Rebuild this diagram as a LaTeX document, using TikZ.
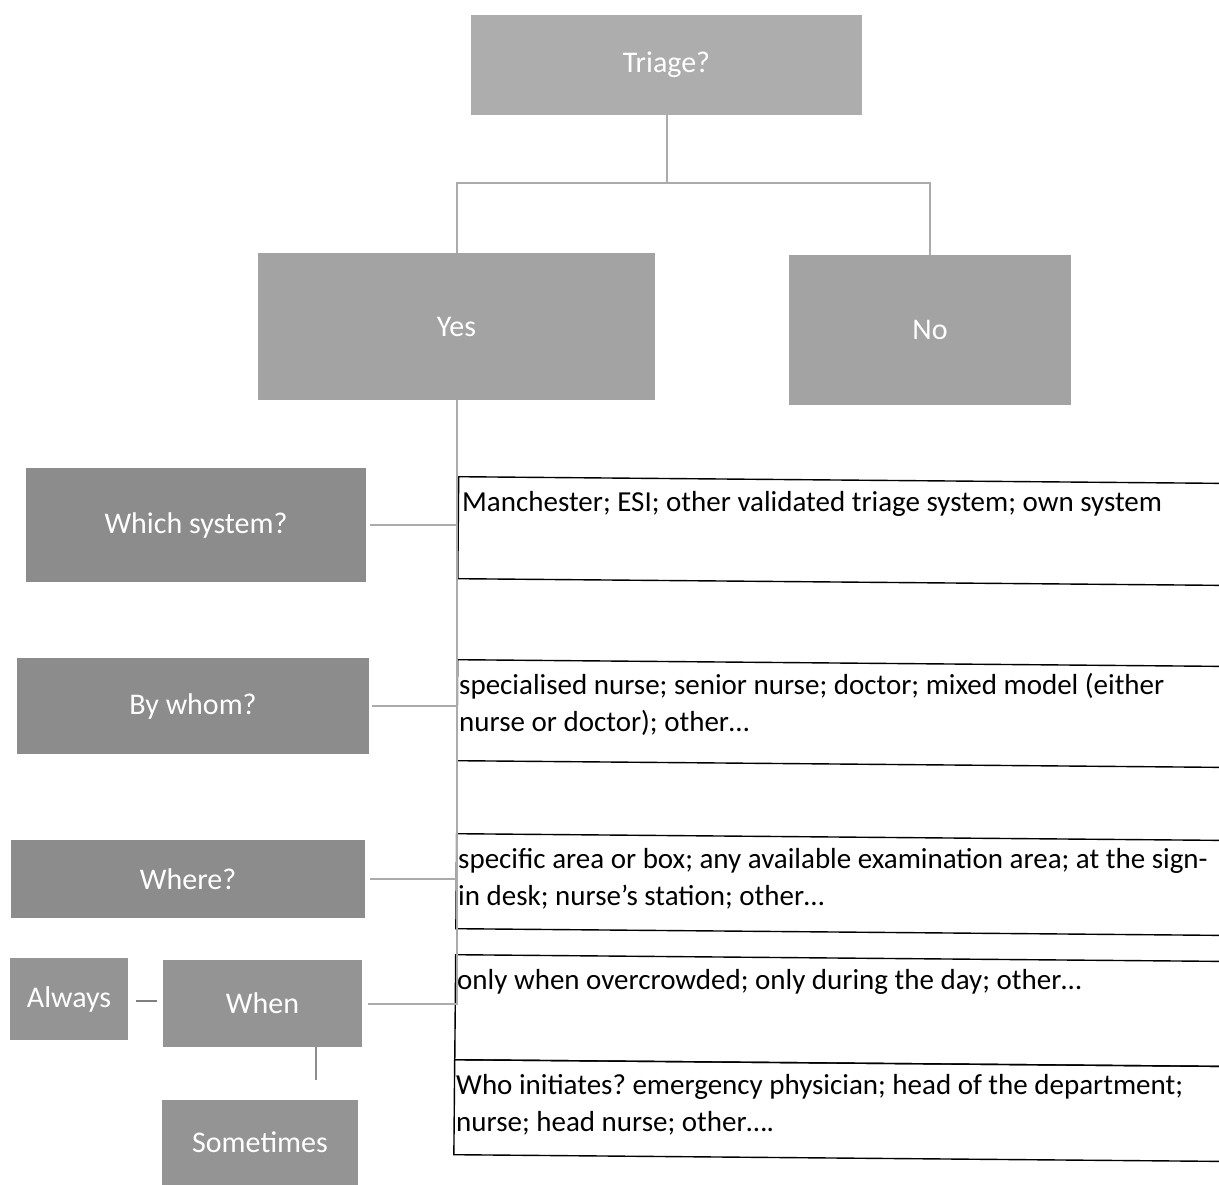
\documentclass[tikz,border=0pt]{standalone}
\usepackage{fontspec}
\setmainfont{Carlito}
\frenchspacing
\begin{document}
\begin{tikzpicture}[x=1pt,y=-1pt,
  graybox/.style={rectangle, inner sep=0pt, text=white, font=\fontsize{30}{36}\selectfont},
  lightbox/.style={graybox, fill=black!32},
  darkbox/.style={graybox, fill=black!45},
  frame/.style={draw=black, line width=1.4pt, rectangle, inner sep=0pt, anchor=north west, rotate=-0.5, minimum width=820pt},
  bodytext/.style={anchor=base west, inner sep=0pt, align=left, font=\fontsize{29}{37}\selectfont},
  link/.style={draw=black!33, line width=2pt},
  shortlink/.style={draw=black!50, line width=1.6pt}
]
\useasboundingbox (0,0) rectangle (1219,1185);
\clip (0,0) rectangle (1219,1185);

% gray nodes
\node[lightbox, minimum width=391pt, minimum height=100pt] (triage) at (666.5,65) {Triage?};
\node[lightbox, fill=black!36, minimum width=397pt, minimum height=147pt] (yes) at (456.5,326.5) {Yes};
\node[lightbox, fill=black!36, minimum width=282pt, minimum height=150pt] (no) at (930,330) {No};
\node[darkbox, minimum width=340pt, minimum height=114pt] (which) at (196,525) {Which system?};
\node[darkbox, minimum width=352pt, minimum height=96pt] (bywhom) at (193,706) {By whom?};
\node[darkbox, minimum width=354pt, minimum height=78pt] (where) at (188,879) {Where?};
\node[darkbox, fill=black!42, minimum width=118pt, minimum height=82pt] (always) at (69,999) {Always};
\node[darkbox, fill=black!42, minimum width=199pt, minimum height=87pt] (when) at (262.5,1003.5) {When};
\node[darkbox, fill=black!42, minimum width=196pt, minimum height=85pt] (sometimes) at (260,1142.5) {Sometimes};

% answer frames
\node[frame, minimum height=102pt] (f1) at (458,476) {};
\node[frame, minimum height=101pt] (f2) at (457,659) {};
\node[frame, minimum height=95pt] (f3) at (456,833) {};
\node[frame, minimum height=105pt] (f4) at (455,954) {};
\node[frame, minimum height=95pt] (f5) at (454,1059) {};

% (anchor base of a multi-line node = baseline of its last line)
\node[bodytext] (t1) at (462,511) {Manchester; ESI; other validated triage system; own system};
\node[bodytext] (t2) at (459,731) {specialised nurse; senior nurse; doctor; mixed model (either\\nurse or doctor); other…};
\node[bodytext] (t3) at (458,905) {specific area or box; any available examination area; at the sign-\\in desk; nurse’s station; other…};
\node[bodytext] (t4) at (457,989) {only when overcrowded; only during the day; other…};
\node[bodytext] (t5) at (456,1131) {Who initiates? emergency physician; head of the department;\\nurse; head nurse; other….};

% connectors
\coordinate (split) at (666.5,183);
\draw[link] (triage.south) -- (split);
\draw[link] (split) -| (yes.north);
\draw[link] (split) -| (no.north);
\draw[link] (yes.south) -- (yes.south |- when.east) -- ([xshift=6pt]when.east);
\draw[link] ([xshift=4pt]which.east) -- (which.east -| yes.south);
\draw[link] ([xshift=3pt]bywhom.east) -- (bywhom.east -| yes.south);
\draw[link] ([xshift=5pt]where.east) -- (where.east -| yes.south);
\coordinate (awend) at (157,1001);
\draw[shortlink] ([xshift=8pt]always.east |- awend) -- (awend);
\coordinate (wsend) at (316,1080);
\draw[link, draw=black!45] (when.south -| wsend) -- (wsend);
\end{tikzpicture}
\end{document}
